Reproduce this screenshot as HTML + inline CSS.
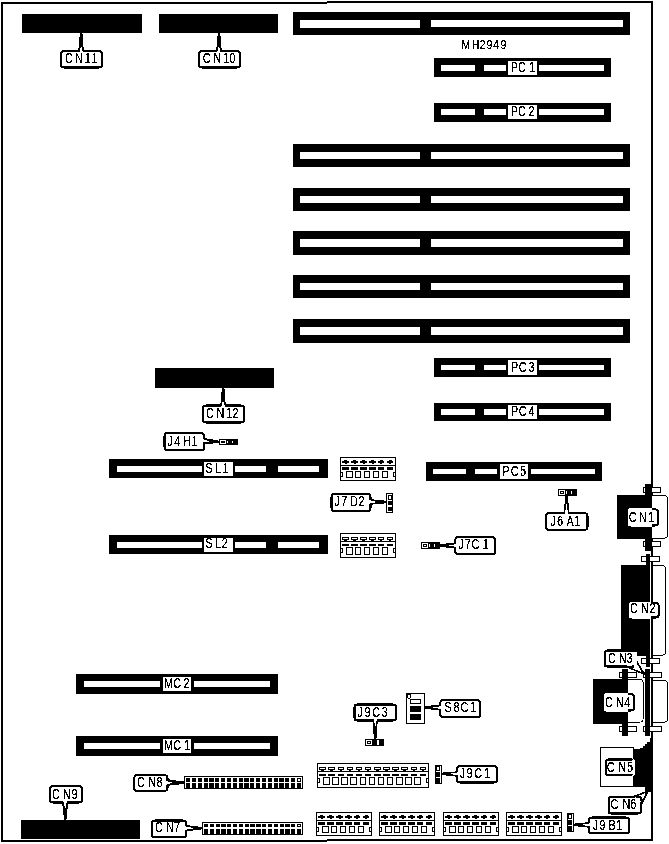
<!DOCTYPE html>
<html lang="en">
<head>
<meta charset="utf-8">
<title>MH2949 board layout</title>
<style>
html,body{margin:0;padding:0;background:#fff;}
body{width:669px;height:844px;overflow:hidden;}
svg{display:block;}
text{font-family:"Liberation Sans",sans-serif;fill:#000;stroke:#000;stroke-width:0.2px;}
</style>
</head>
<body>
<svg width="669" height="844" viewBox="0 0 669 844">
<defs>
<filter id="bw" x="0" y="0" width="669" height="844" filterUnits="userSpaceOnUse" color-interpolation-filters="sRGB">
<feColorMatrix type="matrix" values="0.33 0.34 0.33 0 0  0.33 0.34 0.33 0 0  0.33 0.34 0.33 0 0  0 0 0 1 0"/>
<feComponentTransfer><feFuncR type="discrete" tableValues="0 0 0 0 0 0 0 0 0 0 1 1 1 1 1 1 1 1 1 1"/><feFuncG type="discrete" tableValues="0 0 0 0 0 0 0 0 0 0 1 1 1 1 1 1 1 1 1 1"/><feFuncB type="discrete" tableValues="0 0 0 0 0 0 0 0 0 0 1 1 1 1 1 1 1 1 1 1"/></feComponentTransfer>
</filter>
</defs>
<g filter="url(#bw)">
<rect x="0" y="0" width="669" height="844" fill="#fff"/>
<g shape-rendering="crispEdges">
<rect x="1" y="2" width="2" height="840" fill="#000"/>
<rect x="651" y="1" width="2" height="840" fill="#000"/>
<rect x="1" y="2" width="326" height="2" fill="#000"/>
<rect x="327" y="1" width="326" height="2" fill="#000"/>
<rect x="1" y="840" width="326" height="2" fill="#000"/>
<rect x="327" y="839" width="326" height="2" fill="#000"/>
<rect x="22" y="14" width="120" height="19" fill="#000"/>
<rect x="159" y="14" width="119" height="19" fill="#000"/>
<rect x="155" y="368" width="119" height="20" fill="#000"/>
<rect x="21" y="820" width="119" height="19" fill="#000"/>
<rect x="293" y="12" width="337" height="23" fill="#000"/>
<rect x="300" y="20" width="120" height="8" fill="#fff"/>
<rect x="431" y="20" width="192" height="7" fill="#fff"/>
<rect x="293" y="144" width="337" height="23" fill="#000"/>
<rect x="300" y="152" width="120" height="7" fill="#fff"/>
<rect x="431" y="152" width="192" height="7" fill="#fff"/>
<rect x="293" y="188" width="337" height="23" fill="#000"/>
<rect x="300" y="196" width="120" height="7" fill="#fff"/>
<rect x="431" y="196" width="192" height="7" fill="#fff"/>
<rect x="293" y="231" width="337" height="24" fill="#000"/>
<rect x="300" y="239" width="120" height="8" fill="#fff"/>
<rect x="431" y="239" width="192" height="8" fill="#fff"/>
<rect x="293" y="275" width="337" height="23" fill="#000"/>
<rect x="300" y="283" width="120" height="7" fill="#fff"/>
<rect x="431" y="283" width="192" height="7" fill="#fff"/>
<rect x="293" y="319" width="337" height="24" fill="#000"/>
<rect x="300" y="327" width="120" height="8" fill="#fff"/>
<rect x="431" y="327" width="192" height="8" fill="#fff"/>
<rect x="434" y="58" width="177" height="19" fill="#000"/>
<rect x="441" y="65" width="34" height="6" fill="#fff"/>
<rect x="484" y="65" width="22" height="6" fill="#fff"/>
<rect x="508" y="61" width="29" height="14" fill="#fff"/>
<rect x="539" y="65" width="65" height="6" fill="#fff"/>
<rect x="434" y="103" width="177" height="19" fill="#000"/>
<rect x="441" y="109" width="34" height="6" fill="#fff"/>
<rect x="484" y="109" width="22" height="6" fill="#fff"/>
<rect x="508" y="105" width="29" height="14" fill="#fff"/>
<rect x="539" y="109" width="65" height="6" fill="#fff"/>
<rect x="434" y="358" width="177" height="19" fill="#000"/>
<rect x="441" y="365" width="34" height="5" fill="#fff"/>
<rect x="484" y="365" width="22" height="5" fill="#fff"/>
<rect x="508" y="360" width="29" height="15" fill="#fff"/>
<rect x="539" y="365" width="65" height="5" fill="#fff"/>
<rect x="434" y="403" width="177" height="18" fill="#000"/>
<rect x="441" y="409" width="34" height="6" fill="#fff"/>
<rect x="484" y="409" width="22" height="6" fill="#fff"/>
<rect x="508" y="405" width="29" height="14" fill="#fff"/>
<rect x="539" y="409" width="65" height="6" fill="#fff"/>
<rect x="426" y="462" width="176" height="19" fill="#000"/>
<rect x="433" y="469" width="33" height="5" fill="#fff"/>
<rect x="475" y="469" width="22" height="5" fill="#fff"/>
<rect x="500" y="464" width="28" height="15" fill="#fff"/>
<rect x="531" y="469" width="64" height="5" fill="#fff"/>
<rect x="109" y="459" width="219" height="19" fill="#000"/>
<rect x="117" y="466" width="85" height="6" fill="#fff"/>
<rect x="204" y="462" width="29" height="14" fill="#fff"/>
<rect x="235" y="466" width="31" height="6" fill="#fff"/>
<rect x="278" y="466" width="41" height="6" fill="#fff"/>
<rect x="109" y="535" width="219" height="19" fill="#000"/>
<rect x="117" y="542" width="85" height="6" fill="#fff"/>
<rect x="204" y="538" width="29" height="14" fill="#fff"/>
<rect x="235" y="542" width="31" height="6" fill="#fff"/>
<rect x="278" y="542" width="41" height="6" fill="#fff"/>
<rect x="76" y="674" width="202" height="20" fill="#000"/>
<rect x="84" y="681" width="76" height="6" fill="#fff"/>
<rect x="163" y="677" width="28" height="14" fill="#fff"/>
<rect x="194" y="681" width="76" height="6" fill="#fff"/>
<rect x="76" y="736" width="202" height="20" fill="#000"/>
<rect x="84" y="743" width="76" height="6" fill="#fff"/>
<rect x="163" y="739" width="28" height="14" fill="#fff"/>
<rect x="194" y="743" width="76" height="6" fill="#fff"/>
</g>
<g shape-rendering="crispEdges">
<rect x="340.5" y="457.5" width="55" height="23" fill="#fff" stroke="#000" stroke-width="1"/>
<rect x="342.3" y="461" width="6.5" height="2" fill="#000"/>
<rect x="344.3" y="460" width="3" height="1" fill="#000"/>
<rect x="344.8" y="463" width="2" height="1" fill="#000"/>
<rect x="342.3" y="467" width="6.5" height="3" fill="#000"/>
<rect x="351.217" y="461" width="6.5" height="2" fill="#000"/>
<rect x="353.217" y="460" width="3" height="1" fill="#000"/>
<rect x="353.717" y="463" width="2" height="1" fill="#000"/>
<rect x="351.217" y="467" width="6.5" height="3" fill="#000"/>
<rect x="360.133" y="461" width="6.5" height="2" fill="#000"/>
<rect x="362.133" y="460" width="3" height="1" fill="#000"/>
<rect x="362.633" y="463" width="2" height="1" fill="#000"/>
<rect x="360.133" y="467" width="6.5" height="3" fill="#000"/>
<rect x="369.05" y="461" width="6.5" height="2" fill="#000"/>
<rect x="371.05" y="460" width="3" height="1" fill="#000"/>
<rect x="371.55" y="463" width="2" height="1" fill="#000"/>
<rect x="369.05" y="467" width="6.5" height="3" fill="#000"/>
<rect x="377.967" y="461" width="6.5" height="2" fill="#000"/>
<rect x="379.967" y="460" width="3" height="1" fill="#000"/>
<rect x="380.467" y="463" width="2" height="1" fill="#000"/>
<rect x="377.967" y="467" width="6.5" height="3" fill="#000"/>
<rect x="386.883" y="461" width="6.5" height="2" fill="#000"/>
<rect x="388.883" y="460" width="3" height="1" fill="#000"/>
<rect x="389.383" y="463" width="2" height="1" fill="#000"/>
<rect x="386.883" y="467" width="6.5" height="3" fill="#000"/>
<rect x="340" y="464.5" width="56" height="1" fill="#000"/>
<rect x="346.5" y="471.5" width="5.5" height="5.5" fill="#fff" stroke="#000" stroke-width="1"/>
<rect x="355.417" y="471.5" width="5.5" height="5.5" fill="#fff" stroke="#000" stroke-width="1"/>
<rect x="364.333" y="471.5" width="5.5" height="5.5" fill="#fff" stroke="#000" stroke-width="1"/>
<rect x="373.25" y="471.5" width="5.5" height="5.5" fill="#fff" stroke="#000" stroke-width="1"/>
<rect x="382.167" y="471.5" width="5.5" height="5.5" fill="#fff" stroke="#000" stroke-width="1"/>
<rect x="341" y="472" width="2" height="1" fill="#000"/>
<rect x="342" y="472" width="1" height="5" fill="#000"/>
<rect x="341" y="476" width="2" height="1" fill="#000"/>
<rect x="393" y="472" width="2" height="1" fill="#000"/>
<rect x="393" y="472" width="1" height="5" fill="#000"/>
<rect x="393" y="476" width="2" height="1" fill="#000"/>
</g>
<g shape-rendering="crispEdges">
<rect x="340.5" y="533.5" width="55" height="23.7" fill="#fff" stroke="#000" stroke-width="1"/>
<rect x="342.8" y="537" width="5.5" height="2" fill="#fff" stroke="#000" stroke-width="1"/>
<rect x="344.3" y="539.5" width="2.5" height="1" fill="#000"/>
<rect x="342.3" y="543.6" width="6.5" height="1.9" fill="#000"/>
<rect x="351.717" y="537" width="5.5" height="2" fill="#fff" stroke="#000" stroke-width="1"/>
<rect x="353.217" y="539.5" width="2.5" height="1" fill="#000"/>
<rect x="351.217" y="543.6" width="6.5" height="1.9" fill="#000"/>
<rect x="360.633" y="537" width="5.5" height="2" fill="#fff" stroke="#000" stroke-width="1"/>
<rect x="362.133" y="539.5" width="2.5" height="1" fill="#000"/>
<rect x="360.133" y="543.6" width="6.5" height="1.9" fill="#000"/>
<rect x="369.55" y="537" width="5.5" height="2" fill="#fff" stroke="#000" stroke-width="1"/>
<rect x="371.05" y="539.5" width="2.5" height="1" fill="#000"/>
<rect x="369.05" y="543.6" width="6.5" height="1.9" fill="#000"/>
<rect x="378.467" y="537" width="5.5" height="2" fill="#fff" stroke="#000" stroke-width="1"/>
<rect x="379.967" y="539.5" width="2.5" height="1" fill="#000"/>
<rect x="377.967" y="543.6" width="6.5" height="1.9" fill="#000"/>
<rect x="387.383" y="537" width="5.5" height="2" fill="#fff" stroke="#000" stroke-width="1"/>
<rect x="388.883" y="539.5" width="2.5" height="1" fill="#000"/>
<rect x="386.883" y="543.6" width="6.5" height="1.9" fill="#000"/>
<rect x="340" y="540.5" width="56" height="1" fill="#000"/>
<rect x="346.5" y="547.5" width="5.5" height="6.7" fill="#fff" stroke="#000" stroke-width="1"/>
<rect x="355.417" y="547.5" width="5.5" height="6.7" fill="#fff" stroke="#000" stroke-width="1"/>
<rect x="364.333" y="547.5" width="5.5" height="6.7" fill="#fff" stroke="#000" stroke-width="1"/>
<rect x="373.25" y="547.5" width="5.5" height="6.7" fill="#fff" stroke="#000" stroke-width="1"/>
<rect x="382.167" y="547.5" width="5.5" height="6.7" fill="#fff" stroke="#000" stroke-width="1"/>
<rect x="341" y="548" width="2" height="1" fill="#000"/>
<rect x="342" y="548" width="1" height="5" fill="#000"/>
<rect x="341" y="552" width="2" height="1" fill="#000"/>
<rect x="393" y="548" width="2" height="1" fill="#000"/>
<rect x="393" y="548" width="1" height="5" fill="#000"/>
<rect x="393" y="552" width="2" height="1" fill="#000"/>
</g>
<g shape-rendering="crispEdges">
<rect x="317.5" y="763.5" width="111" height="23.5" fill="#fff" stroke="#000" stroke-width="1"/>
<rect x="319.8" y="767" width="5.5" height="2" fill="#fff" stroke="#000" stroke-width="1"/>
<rect x="321.3" y="769.5" width="2.5" height="1" fill="#000"/>
<rect x="319.3" y="773.6" width="6.5" height="1.9" fill="#000"/>
<rect x="328.925" y="767" width="5.5" height="2" fill="#fff" stroke="#000" stroke-width="1"/>
<rect x="330.425" y="769.5" width="2.5" height="1" fill="#000"/>
<rect x="328.425" y="773.6" width="6.5" height="1.9" fill="#000"/>
<rect x="338.05" y="767" width="5.5" height="2" fill="#fff" stroke="#000" stroke-width="1"/>
<rect x="339.55" y="769.5" width="2.5" height="1" fill="#000"/>
<rect x="337.55" y="773.6" width="6.5" height="1.9" fill="#000"/>
<rect x="347.175" y="767" width="5.5" height="2" fill="#fff" stroke="#000" stroke-width="1"/>
<rect x="348.675" y="769.5" width="2.5" height="1" fill="#000"/>
<rect x="346.675" y="773.6" width="6.5" height="1.9" fill="#000"/>
<rect x="356.3" y="767" width="5.5" height="2" fill="#fff" stroke="#000" stroke-width="1"/>
<rect x="357.8" y="769.5" width="2.5" height="1" fill="#000"/>
<rect x="355.8" y="773.6" width="6.5" height="1.9" fill="#000"/>
<rect x="365.425" y="767" width="5.5" height="2" fill="#fff" stroke="#000" stroke-width="1"/>
<rect x="366.925" y="769.5" width="2.5" height="1" fill="#000"/>
<rect x="364.925" y="773.6" width="6.5" height="1.9" fill="#000"/>
<rect x="374.55" y="767" width="5.5" height="2" fill="#fff" stroke="#000" stroke-width="1"/>
<rect x="376.05" y="769.5" width="2.5" height="1" fill="#000"/>
<rect x="374.05" y="773.6" width="6.5" height="1.9" fill="#000"/>
<rect x="383.675" y="767" width="5.5" height="2" fill="#fff" stroke="#000" stroke-width="1"/>
<rect x="385.175" y="769.5" width="2.5" height="1" fill="#000"/>
<rect x="383.175" y="773.6" width="6.5" height="1.9" fill="#000"/>
<rect x="392.8" y="767" width="5.5" height="2" fill="#fff" stroke="#000" stroke-width="1"/>
<rect x="394.3" y="769.5" width="2.5" height="1" fill="#000"/>
<rect x="392.3" y="773.6" width="6.5" height="1.9" fill="#000"/>
<rect x="401.925" y="767" width="5.5" height="2" fill="#fff" stroke="#000" stroke-width="1"/>
<rect x="403.425" y="769.5" width="2.5" height="1" fill="#000"/>
<rect x="401.425" y="773.6" width="6.5" height="1.9" fill="#000"/>
<rect x="411.05" y="767" width="5.5" height="2" fill="#fff" stroke="#000" stroke-width="1"/>
<rect x="412.55" y="769.5" width="2.5" height="1" fill="#000"/>
<rect x="410.55" y="773.6" width="6.5" height="1.9" fill="#000"/>
<rect x="420.175" y="767" width="5.5" height="2" fill="#fff" stroke="#000" stroke-width="1"/>
<rect x="421.675" y="769.5" width="2.5" height="1" fill="#000"/>
<rect x="419.675" y="773.6" width="6.5" height="1.9" fill="#000"/>
<rect x="317" y="770.5" width="112" height="1" fill="#000"/>
<rect x="323.5" y="777.5" width="5.5" height="6.5" fill="#fff" stroke="#000" stroke-width="1"/>
<rect x="332.625" y="777.5" width="5.5" height="6.5" fill="#fff" stroke="#000" stroke-width="1"/>
<rect x="341.75" y="777.5" width="5.5" height="6.5" fill="#fff" stroke="#000" stroke-width="1"/>
<rect x="350.875" y="777.5" width="5.5" height="6.5" fill="#fff" stroke="#000" stroke-width="1"/>
<rect x="360" y="777.5" width="5.5" height="6.5" fill="#fff" stroke="#000" stroke-width="1"/>
<rect x="369.125" y="777.5" width="5.5" height="6.5" fill="#fff" stroke="#000" stroke-width="1"/>
<rect x="378.25" y="777.5" width="5.5" height="6.5" fill="#fff" stroke="#000" stroke-width="1"/>
<rect x="387.375" y="777.5" width="5.5" height="6.5" fill="#fff" stroke="#000" stroke-width="1"/>
<rect x="396.5" y="777.5" width="5.5" height="6.5" fill="#fff" stroke="#000" stroke-width="1"/>
<rect x="405.625" y="777.5" width="5.5" height="6.5" fill="#fff" stroke="#000" stroke-width="1"/>
<rect x="414.75" y="777.5" width="5.5" height="6.5" fill="#fff" stroke="#000" stroke-width="1"/>
<rect x="318" y="778" width="2" height="1" fill="#000"/>
<rect x="319" y="778" width="1" height="5" fill="#000"/>
<rect x="318" y="782" width="2" height="1" fill="#000"/>
<rect x="426" y="778" width="2" height="1" fill="#000"/>
<rect x="426" y="778" width="1" height="5" fill="#000"/>
<rect x="426" y="782" width="2" height="1" fill="#000"/>
</g>
<g shape-rendering="crispEdges">
<rect x="316.5" y="812.5" width="55" height="23" fill="#fff" stroke="#000" stroke-width="1"/>
<rect x="318.3" y="816" width="6.5" height="2" fill="#000"/>
<rect x="320.3" y="815" width="3" height="1" fill="#000"/>
<rect x="320.8" y="818" width="2" height="1" fill="#000"/>
<rect x="318.3" y="822" width="6.5" height="3" fill="#000"/>
<rect x="327.217" y="816" width="6.5" height="2" fill="#000"/>
<rect x="329.217" y="815" width="3" height="1" fill="#000"/>
<rect x="329.717" y="818" width="2" height="1" fill="#000"/>
<rect x="327.217" y="822" width="6.5" height="3" fill="#000"/>
<rect x="336.133" y="816" width="6.5" height="2" fill="#000"/>
<rect x="338.133" y="815" width="3" height="1" fill="#000"/>
<rect x="338.633" y="818" width="2" height="1" fill="#000"/>
<rect x="336.133" y="822" width="6.5" height="3" fill="#000"/>
<rect x="345.05" y="816" width="6.5" height="2" fill="#000"/>
<rect x="347.05" y="815" width="3" height="1" fill="#000"/>
<rect x="347.55" y="818" width="2" height="1" fill="#000"/>
<rect x="345.05" y="822" width="6.5" height="3" fill="#000"/>
<rect x="353.967" y="816" width="6.5" height="2" fill="#000"/>
<rect x="355.967" y="815" width="3" height="1" fill="#000"/>
<rect x="356.467" y="818" width="2" height="1" fill="#000"/>
<rect x="353.967" y="822" width="6.5" height="3" fill="#000"/>
<rect x="362.883" y="816" width="6.5" height="2" fill="#000"/>
<rect x="364.883" y="815" width="3" height="1" fill="#000"/>
<rect x="365.383" y="818" width="2" height="1" fill="#000"/>
<rect x="362.883" y="822" width="6.5" height="3" fill="#000"/>
<rect x="316" y="819.5" width="56" height="1" fill="#000"/>
<rect x="322.5" y="826.5" width="5.5" height="5.5" fill="#fff" stroke="#000" stroke-width="1"/>
<rect x="331.417" y="826.5" width="5.5" height="5.5" fill="#fff" stroke="#000" stroke-width="1"/>
<rect x="340.333" y="826.5" width="5.5" height="5.5" fill="#fff" stroke="#000" stroke-width="1"/>
<rect x="349.25" y="826.5" width="5.5" height="5.5" fill="#fff" stroke="#000" stroke-width="1"/>
<rect x="358.167" y="826.5" width="5.5" height="5.5" fill="#fff" stroke="#000" stroke-width="1"/>
<rect x="317" y="827" width="2" height="1" fill="#000"/>
<rect x="318" y="827" width="1" height="5" fill="#000"/>
<rect x="317" y="831" width="2" height="1" fill="#000"/>
<rect x="369" y="827" width="2" height="1" fill="#000"/>
<rect x="369" y="827" width="1" height="5" fill="#000"/>
<rect x="369" y="831" width="2" height="1" fill="#000"/>
</g>
<g shape-rendering="crispEdges">
<rect x="379.5" y="812.5" width="55" height="23" fill="#fff" stroke="#000" stroke-width="1"/>
<rect x="381.3" y="816" width="6.5" height="2" fill="#000"/>
<rect x="383.3" y="815" width="3" height="1" fill="#000"/>
<rect x="383.8" y="818" width="2" height="1" fill="#000"/>
<rect x="381.3" y="822" width="6.5" height="3" fill="#000"/>
<rect x="390.217" y="816" width="6.5" height="2" fill="#000"/>
<rect x="392.217" y="815" width="3" height="1" fill="#000"/>
<rect x="392.717" y="818" width="2" height="1" fill="#000"/>
<rect x="390.217" y="822" width="6.5" height="3" fill="#000"/>
<rect x="399.133" y="816" width="6.5" height="2" fill="#000"/>
<rect x="401.133" y="815" width="3" height="1" fill="#000"/>
<rect x="401.633" y="818" width="2" height="1" fill="#000"/>
<rect x="399.133" y="822" width="6.5" height="3" fill="#000"/>
<rect x="408.05" y="816" width="6.5" height="2" fill="#000"/>
<rect x="410.05" y="815" width="3" height="1" fill="#000"/>
<rect x="410.55" y="818" width="2" height="1" fill="#000"/>
<rect x="408.05" y="822" width="6.5" height="3" fill="#000"/>
<rect x="416.967" y="816" width="6.5" height="2" fill="#000"/>
<rect x="418.967" y="815" width="3" height="1" fill="#000"/>
<rect x="419.467" y="818" width="2" height="1" fill="#000"/>
<rect x="416.967" y="822" width="6.5" height="3" fill="#000"/>
<rect x="425.883" y="816" width="6.5" height="2" fill="#000"/>
<rect x="427.883" y="815" width="3" height="1" fill="#000"/>
<rect x="428.383" y="818" width="2" height="1" fill="#000"/>
<rect x="425.883" y="822" width="6.5" height="3" fill="#000"/>
<rect x="379" y="819.5" width="56" height="1" fill="#000"/>
<rect x="385.5" y="826.5" width="5.5" height="5.5" fill="#fff" stroke="#000" stroke-width="1"/>
<rect x="394.417" y="826.5" width="5.5" height="5.5" fill="#fff" stroke="#000" stroke-width="1"/>
<rect x="403.333" y="826.5" width="5.5" height="5.5" fill="#fff" stroke="#000" stroke-width="1"/>
<rect x="412.25" y="826.5" width="5.5" height="5.5" fill="#fff" stroke="#000" stroke-width="1"/>
<rect x="421.167" y="826.5" width="5.5" height="5.5" fill="#fff" stroke="#000" stroke-width="1"/>
<rect x="380" y="827" width="2" height="1" fill="#000"/>
<rect x="381" y="827" width="1" height="5" fill="#000"/>
<rect x="380" y="831" width="2" height="1" fill="#000"/>
<rect x="432" y="827" width="2" height="1" fill="#000"/>
<rect x="432" y="827" width="1" height="5" fill="#000"/>
<rect x="432" y="831" width="2" height="1" fill="#000"/>
</g>
<g shape-rendering="crispEdges">
<rect x="443.5" y="812.5" width="55" height="23" fill="#fff" stroke="#000" stroke-width="1"/>
<rect x="445.3" y="816" width="6.5" height="2" fill="#000"/>
<rect x="447.3" y="815" width="3" height="1" fill="#000"/>
<rect x="447.8" y="818" width="2" height="1" fill="#000"/>
<rect x="445.3" y="822" width="6.5" height="3" fill="#000"/>
<rect x="454.217" y="816" width="6.5" height="2" fill="#000"/>
<rect x="456.217" y="815" width="3" height="1" fill="#000"/>
<rect x="456.717" y="818" width="2" height="1" fill="#000"/>
<rect x="454.217" y="822" width="6.5" height="3" fill="#000"/>
<rect x="463.133" y="816" width="6.5" height="2" fill="#000"/>
<rect x="465.133" y="815" width="3" height="1" fill="#000"/>
<rect x="465.633" y="818" width="2" height="1" fill="#000"/>
<rect x="463.133" y="822" width="6.5" height="3" fill="#000"/>
<rect x="472.05" y="816" width="6.5" height="2" fill="#000"/>
<rect x="474.05" y="815" width="3" height="1" fill="#000"/>
<rect x="474.55" y="818" width="2" height="1" fill="#000"/>
<rect x="472.05" y="822" width="6.5" height="3" fill="#000"/>
<rect x="480.967" y="816" width="6.5" height="2" fill="#000"/>
<rect x="482.967" y="815" width="3" height="1" fill="#000"/>
<rect x="483.467" y="818" width="2" height="1" fill="#000"/>
<rect x="480.967" y="822" width="6.5" height="3" fill="#000"/>
<rect x="489.883" y="816" width="6.5" height="2" fill="#000"/>
<rect x="491.883" y="815" width="3" height="1" fill="#000"/>
<rect x="492.383" y="818" width="2" height="1" fill="#000"/>
<rect x="489.883" y="822" width="6.5" height="3" fill="#000"/>
<rect x="443" y="819.5" width="56" height="1" fill="#000"/>
<rect x="449.5" y="826.5" width="5.5" height="5.5" fill="#fff" stroke="#000" stroke-width="1"/>
<rect x="458.417" y="826.5" width="5.5" height="5.5" fill="#fff" stroke="#000" stroke-width="1"/>
<rect x="467.333" y="826.5" width="5.5" height="5.5" fill="#fff" stroke="#000" stroke-width="1"/>
<rect x="476.25" y="826.5" width="5.5" height="5.5" fill="#fff" stroke="#000" stroke-width="1"/>
<rect x="485.167" y="826.5" width="5.5" height="5.5" fill="#fff" stroke="#000" stroke-width="1"/>
<rect x="444" y="827" width="2" height="1" fill="#000"/>
<rect x="445" y="827" width="1" height="5" fill="#000"/>
<rect x="444" y="831" width="2" height="1" fill="#000"/>
<rect x="496" y="827" width="2" height="1" fill="#000"/>
<rect x="496" y="827" width="1" height="5" fill="#000"/>
<rect x="496" y="831" width="2" height="1" fill="#000"/>
</g>
<g shape-rendering="crispEdges">
<rect x="506.5" y="812.5" width="55" height="23" fill="#fff" stroke="#000" stroke-width="1"/>
<rect x="508.3" y="816" width="6.5" height="2" fill="#000"/>
<rect x="510.3" y="815" width="3" height="1" fill="#000"/>
<rect x="510.8" y="818" width="2" height="1" fill="#000"/>
<rect x="508.3" y="822" width="6.5" height="3" fill="#000"/>
<rect x="517.217" y="816" width="6.5" height="2" fill="#000"/>
<rect x="519.217" y="815" width="3" height="1" fill="#000"/>
<rect x="519.717" y="818" width="2" height="1" fill="#000"/>
<rect x="517.217" y="822" width="6.5" height="3" fill="#000"/>
<rect x="526.133" y="816" width="6.5" height="2" fill="#000"/>
<rect x="528.133" y="815" width="3" height="1" fill="#000"/>
<rect x="528.633" y="818" width="2" height="1" fill="#000"/>
<rect x="526.133" y="822" width="6.5" height="3" fill="#000"/>
<rect x="535.05" y="816" width="6.5" height="2" fill="#000"/>
<rect x="537.05" y="815" width="3" height="1" fill="#000"/>
<rect x="537.55" y="818" width="2" height="1" fill="#000"/>
<rect x="535.05" y="822" width="6.5" height="3" fill="#000"/>
<rect x="543.967" y="816" width="6.5" height="2" fill="#000"/>
<rect x="545.967" y="815" width="3" height="1" fill="#000"/>
<rect x="546.467" y="818" width="2" height="1" fill="#000"/>
<rect x="543.967" y="822" width="6.5" height="3" fill="#000"/>
<rect x="552.883" y="816" width="6.5" height="2" fill="#000"/>
<rect x="554.883" y="815" width="3" height="1" fill="#000"/>
<rect x="555.383" y="818" width="2" height="1" fill="#000"/>
<rect x="552.883" y="822" width="6.5" height="3" fill="#000"/>
<rect x="506" y="819.5" width="56" height="1" fill="#000"/>
<rect x="512.5" y="826.5" width="5.5" height="5.5" fill="#fff" stroke="#000" stroke-width="1"/>
<rect x="521.417" y="826.5" width="5.5" height="5.5" fill="#fff" stroke="#000" stroke-width="1"/>
<rect x="530.333" y="826.5" width="5.5" height="5.5" fill="#fff" stroke="#000" stroke-width="1"/>
<rect x="539.25" y="826.5" width="5.5" height="5.5" fill="#fff" stroke="#000" stroke-width="1"/>
<rect x="548.167" y="826.5" width="5.5" height="5.5" fill="#fff" stroke="#000" stroke-width="1"/>
<rect x="507" y="827" width="2" height="1" fill="#000"/>
<rect x="508" y="827" width="1" height="5" fill="#000"/>
<rect x="507" y="831" width="2" height="1" fill="#000"/>
<rect x="559" y="827" width="2" height="1" fill="#000"/>
<rect x="559" y="827" width="1" height="5" fill="#000"/>
<rect x="559" y="831" width="2" height="1" fill="#000"/>
</g>
<g shape-rendering="crispEdges">
<rect x="184.5" y="776.5" width="118" height="12" fill="#fff" stroke="#000" stroke-width="1"/>
<rect x="186" y="778" width="4.2" height="3.6" fill="#000"/>
<rect x="186" y="782.9" width="4.2" height="5.1" fill="#000"/>
<rect x="191.84" y="778" width="4.2" height="3.6" fill="#000"/>
<rect x="191.84" y="782.9" width="4.2" height="5.1" fill="#000"/>
<rect x="197.68" y="778" width="4.2" height="3.6" fill="#000"/>
<rect x="197.68" y="782.9" width="4.2" height="5.1" fill="#000"/>
<rect x="203.52" y="778" width="4.2" height="3.6" fill="#000"/>
<rect x="203.52" y="782.9" width="4.2" height="5.1" fill="#000"/>
<rect x="209.36" y="778" width="4.2" height="3.6" fill="#000"/>
<rect x="209.36" y="782.9" width="4.2" height="5.1" fill="#000"/>
<rect x="215.2" y="778" width="4.2" height="3.6" fill="#000"/>
<rect x="215.2" y="782.9" width="4.2" height="5.1" fill="#000"/>
<rect x="221.04" y="778" width="4.2" height="3.6" fill="#000"/>
<rect x="221.04" y="782.9" width="4.2" height="5.1" fill="#000"/>
<rect x="226.88" y="778" width="4.2" height="3.6" fill="#000"/>
<rect x="226.88" y="782.9" width="4.2" height="5.1" fill="#000"/>
<rect x="232.72" y="778" width="4.2" height="3.6" fill="#000"/>
<rect x="232.72" y="782.9" width="4.2" height="5.1" fill="#000"/>
<rect x="238.56" y="778" width="4.2" height="3.6" fill="#000"/>
<rect x="238.56" y="782.9" width="4.2" height="5.1" fill="#000"/>
<rect x="244.4" y="778" width="4.2" height="3.6" fill="#000"/>
<rect x="244.4" y="782.9" width="4.2" height="5.1" fill="#000"/>
<rect x="250.24" y="778" width="4.2" height="3.6" fill="#000"/>
<rect x="250.24" y="782.9" width="4.2" height="5.1" fill="#000"/>
<rect x="256.08" y="778" width="4.2" height="3.6" fill="#000"/>
<rect x="256.08" y="782.9" width="4.2" height="5.1" fill="#000"/>
<rect x="261.92" y="778" width="4.2" height="3.6" fill="#000"/>
<rect x="261.92" y="782.9" width="4.2" height="5.1" fill="#000"/>
<rect x="267.76" y="778" width="4.2" height="3.6" fill="#000"/>
<rect x="267.76" y="782.9" width="4.2" height="5.1" fill="#000"/>
<rect x="273.6" y="778" width="4.2" height="3.6" fill="#000"/>
<rect x="273.6" y="782.9" width="4.2" height="5.1" fill="#000"/>
<rect x="279.44" y="778" width="4.2" height="3.6" fill="#000"/>
<rect x="279.44" y="782.9" width="4.2" height="5.1" fill="#000"/>
<rect x="285.28" y="778" width="4.2" height="3.6" fill="#000"/>
<rect x="285.28" y="782.9" width="4.2" height="5.1" fill="#000"/>
<rect x="291.12" y="778" width="4.2" height="3.6" fill="#000"/>
<rect x="291.12" y="782.9" width="4.2" height="5.1" fill="#000"/>
<rect x="297.46" y="778.5" width="3.2" height="2.6" fill="#fff" stroke="#000" stroke-width="1"/>
<rect x="296.96" y="782.9" width="4.2" height="5.1" fill="#000"/>
</g>
<g shape-rendering="crispEdges">
<rect x="202.5" y="822.5" width="100" height="11.5" fill="#fff" stroke="#000" stroke-width="1"/>
<rect x="204" y="824" width="4.2" height="3.35" fill="#000"/>
<rect x="204" y="828.65" width="4.2" height="4.85" fill="#000"/>
<rect x="209.812" y="824" width="4.2" height="3.35" fill="#000"/>
<rect x="209.812" y="828.65" width="4.2" height="4.85" fill="#000"/>
<rect x="215.624" y="824" width="4.2" height="3.35" fill="#000"/>
<rect x="215.624" y="828.65" width="4.2" height="4.85" fill="#000"/>
<rect x="221.435" y="824" width="4.2" height="3.35" fill="#000"/>
<rect x="221.435" y="828.65" width="4.2" height="4.85" fill="#000"/>
<rect x="227.247" y="824" width="4.2" height="3.35" fill="#000"/>
<rect x="227.247" y="828.65" width="4.2" height="4.85" fill="#000"/>
<rect x="233.059" y="824" width="4.2" height="3.35" fill="#000"/>
<rect x="233.059" y="828.65" width="4.2" height="4.85" fill="#000"/>
<rect x="238.871" y="824" width="4.2" height="3.35" fill="#000"/>
<rect x="238.871" y="828.65" width="4.2" height="4.85" fill="#000"/>
<rect x="244.682" y="824" width="4.2" height="3.35" fill="#000"/>
<rect x="244.682" y="828.65" width="4.2" height="4.85" fill="#000"/>
<rect x="250.494" y="824" width="4.2" height="3.35" fill="#000"/>
<rect x="250.494" y="828.65" width="4.2" height="4.85" fill="#000"/>
<rect x="256.306" y="824" width="4.2" height="3.35" fill="#000"/>
<rect x="256.306" y="828.65" width="4.2" height="4.85" fill="#000"/>
<rect x="262.118" y="824" width="4.2" height="3.35" fill="#000"/>
<rect x="262.118" y="828.65" width="4.2" height="4.85" fill="#000"/>
<rect x="267.929" y="824" width="4.2" height="3.35" fill="#000"/>
<rect x="267.929" y="828.65" width="4.2" height="4.85" fill="#000"/>
<rect x="273.741" y="824" width="4.2" height="3.35" fill="#000"/>
<rect x="273.741" y="828.65" width="4.2" height="4.85" fill="#000"/>
<rect x="279.553" y="824" width="4.2" height="3.35" fill="#000"/>
<rect x="279.553" y="828.65" width="4.2" height="4.85" fill="#000"/>
<rect x="285.365" y="824" width="4.2" height="3.35" fill="#000"/>
<rect x="285.365" y="828.65" width="4.2" height="4.85" fill="#000"/>
<rect x="291.176" y="824" width="4.2" height="3.35" fill="#000"/>
<rect x="291.176" y="828.65" width="4.2" height="4.85" fill="#000"/>
<rect x="297.488" y="824.5" width="3.2" height="2.35" fill="#fff" stroke="#000" stroke-width="1"/>
<rect x="296.988" y="828.65" width="4.2" height="4.85" fill="#000"/>
</g>
<g shape-rendering="crispEdges">
<rect x="219" y="439" width="19" height="6" fill="#000"/>
<rect x="220" y="440" width="6" height="4" fill="#fff"/>
<rect x="221" y="441" width="4" height="2" fill="#000"/>
<rect x="222" y="442" width="2" height="0" fill="#fff"/>
<rect x="227" y="441" width="1" height="2" fill="#fff"/>
<rect x="232" y="441" width="1" height="2" fill="#fff"/>
</g>
<g shape-rendering="crispEdges">
<rect x="386.5" y="493.5" width="6" height="19" fill="#fff" stroke="#000" stroke-width="1"/>
<rect x="388.5" y="495.5" width="3" height="4" fill="#fff" stroke="#000" stroke-width="1"/>
<rect x="388" y="501" width="5" height="4" fill="#000"/>
<rect x="388" y="507" width="5" height="4" fill="#000"/>
</g>
<g shape-rendering="crispEdges">
<rect x="558" y="489" width="19" height="7" fill="#000"/>
<rect x="559" y="490" width="6" height="5" fill="#fff"/>
<rect x="560" y="491" width="4" height="3" fill="#000"/>
<rect x="561" y="492" width="2" height="1" fill="#fff"/>
<rect x="566" y="491" width="1" height="3" fill="#fff"/>
<rect x="571" y="491" width="1" height="3" fill="#fff"/>
</g>
<g shape-rendering="crispEdges">
<rect x="421" y="542" width="19" height="7" fill="#000"/>
<rect x="422" y="543" width="6" height="5" fill="#fff"/>
<rect x="423" y="544" width="4" height="3" fill="#000"/>
<rect x="424" y="545" width="2" height="1" fill="#fff"/>
<rect x="429" y="544" width="1" height="3" fill="#fff"/>
<rect x="434" y="544" width="1" height="3" fill="#fff"/>
</g>
<g shape-rendering="crispEdges">
<rect x="365" y="739" width="19" height="7" fill="#000"/>
<rect x="366" y="740" width="6" height="5" fill="#fff"/>
<rect x="367" y="741" width="4" height="3" fill="#000"/>
<rect x="368" y="742" width="2" height="1" fill="#fff"/>
<rect x="377" y="740" width="2" height="5" fill="#fff"/>
</g>
<g shape-rendering="crispEdges">
<rect x="435.5" y="765.5" width="6" height="18" fill="#fff" stroke="#000" stroke-width="1"/>
<rect x="436.5" y="766.5" width="3" height="4" fill="#fff" stroke="#000" stroke-width="1"/>
<rect x="435" y="772" width="5" height="5" fill="#000"/>
<rect x="435" y="778" width="5" height="5" fill="#000"/>
</g>
<g shape-rendering="crispEdges">
<rect x="567.5" y="813.5" width="6" height="18" fill="#fff" stroke="#000" stroke-width="1"/>
<rect x="568.5" y="814.5" width="3" height="4" fill="#fff" stroke="#000" stroke-width="1"/>
<rect x="567" y="820" width="5" height="5" fill="#000"/>
<rect x="567" y="826" width="5" height="5" fill="#000"/>
</g>
<g shape-rendering="crispEdges">
<rect x="406.5" y="693.5" width="18" height="30" fill="#fff" stroke="#000" stroke-width="1"/>
<rect x="410.5" y="699.5" width="10" height="4" fill="#fff" stroke="#000" stroke-width="1"/>
<rect x="410" y="706" width="11" height="6" fill="#000"/>
<rect x="410" y="714" width="11" height="6" fill="#000"/>
</g>
<circle cx="409" cy="696.2" r="2" fill="#fff" stroke="#000" stroke-width="1"/>
<g shape-rendering="crispEdges">
<rect x="643.5" y="487.5" width="17" height="5" fill="#fff" stroke="#000" stroke-width="1"/>
<rect x="643.5" y="541.5" width="17" height="5" fill="#fff" stroke="#000" stroke-width="1"/>
<rect x="645" y="484" width="7" height="67" fill="#000"/>
<rect x="617" y="495" width="35" height="44" fill="#000"/>
<rect x="641.5" y="556.5" width="18" height="5" fill="#fff" stroke="#000" stroke-width="1"/>
<rect x="641.5" y="658.5" width="18" height="5" fill="#fff" stroke="#000" stroke-width="1"/>
<rect x="646" y="554" width="4" height="113" fill="#000"/>
<rect x="621" y="565" width="29" height="90.5" fill="#000"/>
<rect x="619.5" y="672.5" width="17" height="5" fill="#fff" stroke="#000" stroke-width="1"/>
<rect x="619.5" y="726.5" width="17" height="5" fill="#fff" stroke="#000" stroke-width="1"/>
<rect x="643.5" y="672.5" width="18" height="5" fill="#fff" stroke="#000" stroke-width="1"/>
<rect x="643.5" y="726.5" width="18" height="5" fill="#fff" stroke="#000" stroke-width="1"/>
<rect x="621.5" y="669" width="6.5" height="67" fill="#000"/>
<rect x="645" y="669" width="5" height="67" fill="#000"/>
<rect x="593" y="679" width="35" height="44.5" fill="#000"/>
<rect x="600.5" y="747.5" width="33" height="39" fill="#fff" stroke="#000" stroke-width="1"/>
</g>
<polygon shape-rendering="crispEdges" points="652,736 652,792 645,792 645,787 633,787 633,749 640,749 640,748 643,748 643,746 645,746 645,744 647,744 647,742 650,742 650,738 651,738 651,736" fill="#000"/>
<rect x="652" y="496" width="1" height="41.5" fill="#fff"/>
<path d="M653,495.5 H665 Q667.5,495.5 667.5,498 V535.5 Q667.5,538.0 665,538.0 H653" fill="#fff" stroke="#000" stroke-width="1"/>
<path d="M653,565.5 H663 Q665.5,565.5 665.5,568 V652.5 Q665.5,655.0 663,655.0 H653" fill="#fff" stroke="#000" stroke-width="1"/>
<path d="M653,680.5 H665 Q667.5,680.5 667.5,683 V719.5 Q667.5,722.0 665,722.0 H653" fill="#fff" stroke="#000" stroke-width="1"/>
<path d="M628,679.5 H640.5 Q643.0,679.5 643.0,682 V719.5 Q643.0,722.0 640.5,722.0 H628" fill="#fff" stroke="#000" stroke-width="1"/>
<polygon points="77.60,51.00 78.74,47.04 79.16,40.20 80.05,33.00 82.35,33.00 83.16,40.20 83.50,47.04 84.60,51.00" fill="#000"/>
<rect x="61" y="51" width="41" height="16.5" rx="2.5" fill="#fff" stroke="#000" stroke-width="2"/>
<polygon points="79.69,53.50 79.70,51.00 81.13,45.96 82.50,51.00 82.49,53.50" fill="#fff"/>
<polygon points="215.40,51.00 216.54,47.04 216.96,40.20 217.85,33.00 220.15,33.00 220.96,40.20 221.30,47.04 222.40,51.00" fill="#000"/>
<rect x="199" y="51" width="41" height="16.5" rx="2.5" fill="#fff" stroke="#000" stroke-width="2"/>
<polygon points="217.49,53.50 217.50,51.00 218.93,45.60 220.30,51.00 220.29,53.50" fill="#fff"/>
<polygon points="219.60,405.50 220.74,401.65 221.16,395.00 222.05,388.00 224.35,388.00 225.16,395.00 225.50,401.65 226.60,405.50" fill="#000"/>
<rect x="203" y="405.5" width="41" height="17" rx="2.5" fill="#fff" stroke="#000" stroke-width="2"/>
<polygon points="221.69,408.00 221.70,405.50 223.13,400.25 224.50,405.50 224.49,408.00" fill="#fff"/>
<polygon points="204.00,437.40 207.30,438.75 213.00,439.54 219.00,440.75 219.00,443.05 213.00,443.54 207.30,443.65 204.00,444.60" fill="#000"/>
<rect x="164.5" y="433" width="39.5" height="17" rx="2.5" fill="#fff" stroke="#000" stroke-width="2"/>
<polygon points="201.50,439.41 204.00,439.56 210.45,441.39 204.00,442.44 201.50,442.29" fill="#fff"/>
<polygon points="370.50,498.20 373.91,499.40 379.80,499.92 386.00,500.85 386.00,503.15 379.80,503.92 373.91,504.29 370.50,505.40" fill="#000"/>
<rect x="331.5" y="494" width="39" height="17" rx="2.5" fill="#fff" stroke="#000" stroke-width="2"/>
<polygon points="368.00,500.33 370.50,500.36 377.48,501.89 370.50,503.24 368.00,503.21" fill="#fff"/>
<polygon points="563.00,513.30 564.14,509.49 564.56,502.92 565.45,496.00 567.75,496.00 568.56,502.92 568.90,509.49 570.00,513.30" fill="#000"/>
<rect x="546" y="513.3" width="41.5" height="16.4" rx="2.5" fill="#fff" stroke="#000" stroke-width="2"/>
<polygon points="565.09,515.80 565.10,513.30 566.56,502.57 567.90,513.30 567.89,515.80" fill="#fff"/>
<polygon points="455.30,542.20 451.93,543.26 446.12,543.50 440.00,544.35 440.00,546.65 446.12,547.50 451.93,547.74 455.30,548.80" fill="#000"/>
<rect x="455.3" y="537.3" width="39.7" height="16.6" rx="2.5" fill="#fff" stroke="#000" stroke-width="2"/>
<polygon points="457.80,544.18 455.30,544.18 446.88,545.50 455.30,546.82 457.80,546.82" fill="#fff"/>
<polygon points="372.20,720.50 373.17,724.64 373.24,731.78 374.05,739.30 376.35,739.30 377.24,731.78 377.39,724.64 378.40,720.50" fill="#000"/>
<rect x="354.5" y="704.5" width="41.5" height="16" rx="2.5" fill="#fff" stroke="#000" stroke-width="2"/>
<polygon points="374.07,718.00 374.06,720.50 375.26,727.27 376.54,720.50 376.55,718.00" fill="#fff"/>
<polygon points="440.30,704.20 436.93,705.29 431.12,705.60 425.00,706.45 425.00,708.75 431.12,709.60 436.93,709.91 440.30,711.00" fill="#000"/>
<rect x="440.3" y="700.2" width="39.7" height="16.8" rx="2.5" fill="#fff" stroke="#000" stroke-width="2"/>
<polygon points="442.80,706.24 440.30,706.24 431.88,707.60 440.30,708.96 442.80,708.96" fill="#fff"/>
<polygon points="457.20,770.60 453.86,771.63 448.08,771.84 442.00,772.65 442.00,774.95 448.08,775.84 453.86,776.12 457.20,777.20" fill="#000"/>
<rect x="457.2" y="766" width="39.8" height="16.6" rx="2.5" fill="#fff" stroke="#000" stroke-width="2"/>
<polygon points="459.70,772.60 457.20,772.58 449.14,773.85 457.20,775.22 459.70,775.24" fill="#fff"/>
<polygon points="589.00,821.30 585.70,822.42 580.00,822.80 574.00,823.65 574.00,825.95 580.00,826.80 585.70,827.18 589.00,828.30" fill="#000"/>
<rect x="589" y="817.4" width="40" height="15.9" rx="2.5" fill="#fff" stroke="#000" stroke-width="2"/>
<polygon points="591.50,823.40 589.00,823.40 581.50,824.80 589.00,826.20 591.50,826.20" fill="#fff"/>
<polygon points="167.50,778.80 171.24,780.05 177.70,780.70 184.50,781.55 184.50,783.85 177.70,784.70 171.24,785.35 167.50,786.60" fill="#000"/>
<rect x="134.3" y="775.2" width="33.2" height="15.6" rx="2.5" fill="#fff" stroke="#000" stroke-width="2"/>
<polygon points="165.00,781.14 167.50,781.14 173.45,782.70 167.50,784.26 165.00,784.26" fill="#fff"/>
<polygon points="186.00,824.20 189.65,825.47 195.96,826.16 202.60,827.05 202.60,829.35 195.96,830.16 189.65,830.77 186.00,832.00" fill="#000"/>
<rect x="152" y="820.4" width="34" height="16.5" rx="2.5" fill="#fff" stroke="#000" stroke-width="2"/>
<polygon points="183.50,826.52 186.00,826.54 193.97,828.15 186.00,829.66 183.50,829.64" fill="#fff"/>
<polygon points="61.60,802.60 62.75,806.43 63.20,813.04 64.05,820.00 66.35,820.00 67.20,813.04 67.65,806.43 68.80,802.60" fill="#000"/>
<rect x="50" y="786" width="31.8" height="16.6" rx="2.5" fill="#fff" stroke="#000" stroke-width="2"/>
<polygon points="63.76,800.10 63.76,802.60 65.20,809.21 66.64,802.60 66.64,800.10" fill="#fff"/>
<polygon points="627.5,667 644,674 636,660.5" fill="#fff" stroke="#000" stroke-width="1.7" stroke-linejoin="round"/>
<rect x="603.7" y="649.4" width="32.9" height="18.2" rx="2.5" fill="#fff"/>
<clipPath id="lc1"><rect x="600" y="645" width="34.4" height="25"/></clipPath>
<rect clip-path="url(#lc1)" x="604.7" y="650.4" width="30.9" height="16.2" rx="2.5" fill="#fff" stroke="#000" stroke-width="2"/>
<polygon points="626.71,664.16 629.78,666.73 635.56,662.31 632.49,659.74" fill="#fff"/>
<rect x="634" y="649" width="3" height="2.6" fill="#000"/>
<polygon points="633.5,796.6 647.5,791.5 641.6,803.5" fill="#fff" stroke="#000" stroke-width="1.7" stroke-linejoin="round"/>
<rect x="608.6" y="797" width="32.6" height="16.5" rx="2.5" fill="#fff" stroke="#000" stroke-width="2"/>
<polygon points="632.67,799.53 635.71,796.92 641.21,801.61 638.18,804.22" fill="#fff"/>
<rect x="627.8" y="508.2" width="31" height="18.4" rx="2.5" fill="#fff"/>
<clipPath id="lc2"><rect x="652" y="500" width="18" height="35"/></clipPath>
<rect clip-path="url(#lc2)" x="628.8" y="509.2" width="29" height="16.4" rx="2.5" fill="#fff" stroke="#000" stroke-width="2"/>
<rect x="628.8" y="601.9" width="30.8" height="16.6" rx="2.5" fill="#fff"/>
<clipPath id="lc3"><rect x="651" y="595" width="19" height="30"/></clipPath>
<rect clip-path="url(#lc3)" x="629.8" y="602.9" width="28.8" height="14.6" rx="2.5" fill="#fff" stroke="#000" stroke-width="2"/>
<rect x="603.7" y="693" width="31.3" height="18.5" rx="2.5" fill="#fff"/>
<clipPath id="lc4"><rect x="628" y="685" width="12" height="35"/></clipPath>
<rect clip-path="url(#lc4)" x="604.7" y="694" width="29.3" height="16.5" rx="2.5" fill="#fff" stroke="#000" stroke-width="2"/>
<rect x="604.6" y="758.4" width="30.4" height="17.6" rx="2.5" fill="#fff"/>
<clipPath id="lc5"><rect x="595" y="750" width="37.5" height="30"/></clipPath>
<rect clip-path="url(#lc5)" x="605.6" y="759.4" width="28.4" height="15.6" rx="2.5" fill="#fff" stroke="#000" stroke-width="2"/>
<text transform="scale(0.78,1)" x="83.32 96.10 108.67 117.26" y="63" font-size="14">CN11</text>
<text transform="scale(0.78,1)" x="260.05 273.34 286.24 294.06" y="63.2" font-size="14">CN10</text>
<text transform="scale(0.78,1)" x="264.02 277.44 290.21 298.09" y="417.6" font-size="14">CN12</text>
<text transform="scale(0.78,1)" x="214.67 223.33 234.88 245.53" y="446" font-size="14">J4H1</text>
<text transform="scale(0.78,1)" x="428.96 437.38 448.87 459.57" y="506.5" font-size="14">J7D2</text>
<text transform="scale(0.78,1)" x="705.63 714.26 726.23 736.11" y="526.1" font-size="14">J6A1</text>
<text transform="scale(0.78,1)" x="587.81 595.78 604.54 619.06" y="549.2" font-size="14">J7C1</text>
<text transform="scale(0.78,1)" x="458.38 467.26 477.10 489.42" y="717" font-size="14">J9C3</text>
<text transform="scale(0.78,1)" x="569.82 581.36 590.50 602.77" y="711.9" font-size="14">S8C1</text>
<text transform="scale(0.78,1)" x="589.54 598.03 607.87 620.60" y="778" font-size="14">J9C1</text>
<text transform="scale(0.78,1)" x="759.92 768.42 780.19 789.63" y="830.1" font-size="14">J9B1</text>
<text transform="scale(0.78,1)" x="175.50 190.07 200.72" y="786.7" font-size="14">CN8</text>
<text transform="scale(0.78,1)" x="198.83 212.89 223.15" y="832.3" font-size="14">CN7</text>
<text transform="scale(0.78,1)" x="66.65 80.39 91.75" y="798.9" font-size="14">CN9</text>
<text transform="scale(0.78,1)" x="779.41 793.21 803.20" y="662.6" font-size="14">CN3</text>
<text transform="scale(0.78,1)" x="782.80 798.21 808.17" y="809" font-size="14">CN6</text>
<text transform="scale(0.78,1)" x="806.14 819.30 830.79" y="521.9" font-size="14">CN1</text>
<text transform="scale(0.78,1)" x="807.74 821.54 832.71" y="613.2" font-size="14">CN2</text>
<text transform="scale(0.78,1)" x="775.56 789.36 800.19" y="706.8" font-size="14">CN4</text>
<text transform="scale(0.78,1)" x="777.80 792.70 803.81" y="771.8" font-size="14">CN5</text>
<text transform="scale(0.78,1)" x="654.81 664.09 678.10" y="71.6" font-size="14">PC1</text>
<text transform="scale(0.78,1)" x="654.81 664.09 677.65" y="116" font-size="14">PC2</text>
<text transform="scale(0.78,1)" x="655.06 665.18 677.69" y="371.8" font-size="14">PC3</text>
<text transform="scale(0.78,1)" x="655.06 665.18 677.69" y="415.9" font-size="14">PC4</text>
<text transform="scale(0.78,1)" x="644.10 654.79 666.63" y="475.8" font-size="14">PC5</text>
<text transform="scale(0.78,1)" x="263.28 275.44 285.40" y="473.1" font-size="14">SL1</text>
<text transform="scale(0.78,1)" x="263.28 275.44 284.38" y="548.4" font-size="14">SL2</text>
<text transform="scale(0.78,1)" x="210.26 222.29 235.27" y="687.8" font-size="14">MC2</text>
<text transform="scale(0.78,1)" x="210.26 222.29 235.85" y="749.8" font-size="14">MC1</text>
<text transform="scale(0.86,1)" x="536.60 548.50 557.83 565.85 573.62 581.90" y="48.8" font-size="12.2">MH2949</text>
</g>
</svg>
</body>
</html>
